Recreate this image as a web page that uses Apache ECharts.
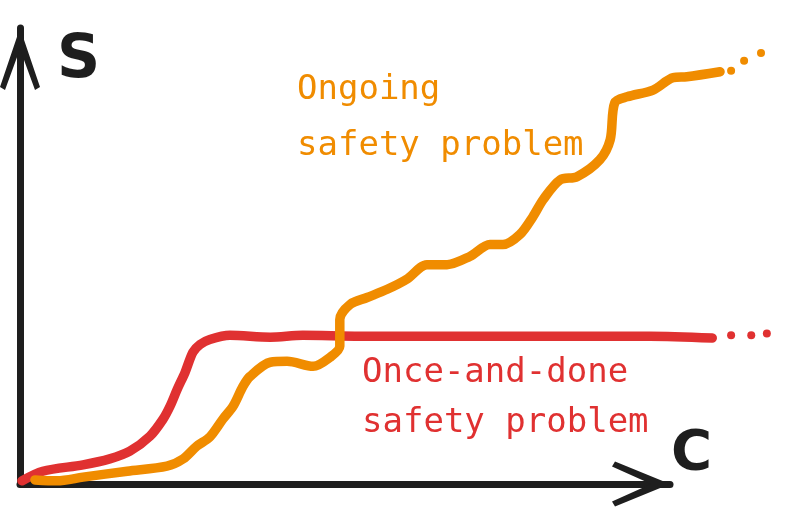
<!DOCTYPE html>
<html>
<head>
<meta charset="utf-8">
<script src="https://cdn.jsdelivr.net/npm/echarts@6/dist/echarts.min.js"></script>
<style>
html,body{margin:0;padding:0;background:#fff;}
#chart{width:787px;height:521px;}
</style>
</head>
<body>
<div id="chart"></div>
<script>
// Once-and-done safety problem (red)
var onceX = [0.3, 3.5, 9.7, 13.8, 16.9, 20.0, 22.0, 23.1, 24.2, 25.4, 26.6, 27.7, 29.2, 32.3, 38.5, 43.5, 52.3, 66.2, 81.5, 96.9, 106.5];
var onceY = [0.7, 2.8, 4.2, 5.5, 7.2, 10.5, 14.2, 17.1, 20.8, 24.5, 28.9, 30.6, 31.7, 32.6, 32.2, 32.6, 32.4, 32.4, 32.4, 32.4, 32.0];
var onceDotsX = [109.4, 112.5, 114.9];
var onceDotsY = [32.6, 32.6, 33.0];

// Ongoing safety problem (orange)
var ongoingX = [2.3, 5.7, 9.7, 16.5, 22.6, 25.1, 27.2, 29.2, 31.2, 32.8, 34.3, 35.4, 38.5, 41.1, 45.1, 47.7, 49.2, 49.2, 50.8, 53.4, 56.5, 59.5, 62.6, 65.7, 69.2, 72.3, 74.3, 76.9, 78.9, 80.5, 83.1, 85.7, 89.2, 90.8, 91.5, 93.4, 97.4, 100.5, 102.6, 107.7];
var ongoingY = [0.9, 0.7, 1.5, 2.8, 3.9, 5.5, 8.3, 10.3, 14.2, 17.1, 21.4, 23.6, 26.7, 26.9, 25.8, 27.8, 30.2, 36.1, 39.4, 40.9, 42.7, 44.9, 48.1, 48.1, 49.9, 52.5, 52.5, 54.7, 58.6, 62.4, 66.7, 67.4, 71.1, 75.5, 83.6, 84.9, 86.4, 89.1, 89.3, 90.4];
var ongoingDotsX = [109.4, 111.4, 114.0];
var ongoingDotsY = [90.6, 92.8, 94.5];

var labels = {
  yAxis: 'S',
  xAxis: 'C',
  ongoing: ['Ongoing', 'safety problem'],
  once: ['Once-and-done', 'safety problem']
};

var RED = '#e03131', ORANGE = '#f08c00', INK = '#1e1e1e';
function zip(xs, ys) { return xs.map(function (x, i) { return [x, ys[i]]; }); }

var chart = echarts.init(document.getElementById('chart'));
var handFont = '"DejaVu Sans Mono", monospace';
var hidden = { show: false };

chart.setOption({
  animation: false,
  backgroundColor: '#ffffff',
  grid: [
    { left: 20, top: 28, right: 117, bottom: 37 },  // visible axes (C, S)
    { left: 20, top: 28, right: 0, bottom: 37 }     // same scale, wider, for the curves that run past the arrow
  ],
  xAxis: [
    {
      gridIndex: 0, type: 'value', min: 0, max: 100,
      splitLine: hidden, axisTick: hidden, axisLabel: hidden,
      axisLine: {
        show: true, onZero: false,
        lineStyle: { color: INK, width: 7, cap: 'round' },
        symbol: ['none', 'path://M22.5,0 L45,55 L40,58 L22.5,19 L5,58 L0,55 Z'],
        symbolSize: [45, 58],
        symbolOffset: [0, -29]
      }
    },
    {
      gridIndex: 1, type: 'value', min: 0, max: 118,
      show: false, splitLine: hidden, axisTick: hidden, axisLabel: hidden, axisLine: hidden
    }
  ],
  yAxis: [
    {
      gridIndex: 0, type: 'value', min: 0, max: 100,
      splitLine: hidden, axisTick: hidden, axisLabel: hidden,
      axisLine: {
        show: true, onZero: false,
        lineStyle: { color: INK, width: 7, cap: 'round' },
        symbol: ['none', 'path://M20,0 L40,59 L35,62 L20,21 L5,62 L0,59 Z'],
        symbolSize: [40, 62],
        symbolOffset: [0, -31]
      }
    },
    {
      gridIndex: 1, type: 'value', min: 0, max: 100,
      show: false, splitLine: hidden, axisTick: hidden, axisLabel: hidden, axisLine: hidden
    }
  ],
  series: [
    {
      type: 'line', xAxisIndex: 1, yAxisIndex: 1, data: zip(onceX, onceY), smooth: 0.3, showSymbol: false, clip: false,
      lineStyle: { color: RED, width: 9.5, cap: 'round', join: 'round' }, z: 3
    },
    {
      type: 'scatter', xAxisIndex: 1, yAxisIndex: 1, data: zip(onceDotsX, onceDotsY), symbolSize: 8, clip: false,
      itemStyle: { color: RED, opacity: 1 }, z: 3
    },
    {
      type: 'line', xAxisIndex: 1, yAxisIndex: 1, data: zip(ongoingX, ongoingY), smooth: 0.3, showSymbol: false, clip: false,
      lineStyle: { color: ORANGE, width: 9.5, cap: 'round', join: 'round' }, z: 4
    },
    {
      type: 'scatter', xAxisIndex: 1, yAxisIndex: 1, data: zip(ongoingDotsX, ongoingDotsY), symbolSize: 8, clip: false,
      itemStyle: { color: ORANGE, opacity: 1 }, z: 4
    }
  ],
  graphic: [
    { type: 'text', left: 57, top: 31, style: { text: labels.yAxis, fill: INK, font: 'bold 60px "DejaVu Sans"' } },
    { type: 'text', left: 671, top: 426, style: { text: labels.xAxis, fill: INK, font: 'bold 56px "DejaVu Sans"' } },
    { type: 'text', left: 297, top: 73, style: { text: labels.ongoing[0], fill: ORANGE, font: '34px ' + handFont } },
    { type: 'text', left: 297, top: 129, style: { text: labels.ongoing[1], fill: ORANGE, font: '34px ' + handFont } },
    { type: 'text', left: 362, top: 356, style: { text: labels.once[0], fill: RED, font: '34px ' + handFont } },
    { type: 'text', left: 362, top: 406, style: { text: labels.once[1], fill: RED, font: '34px ' + handFont } }
  ]
});
</script>
</body>
</html>
